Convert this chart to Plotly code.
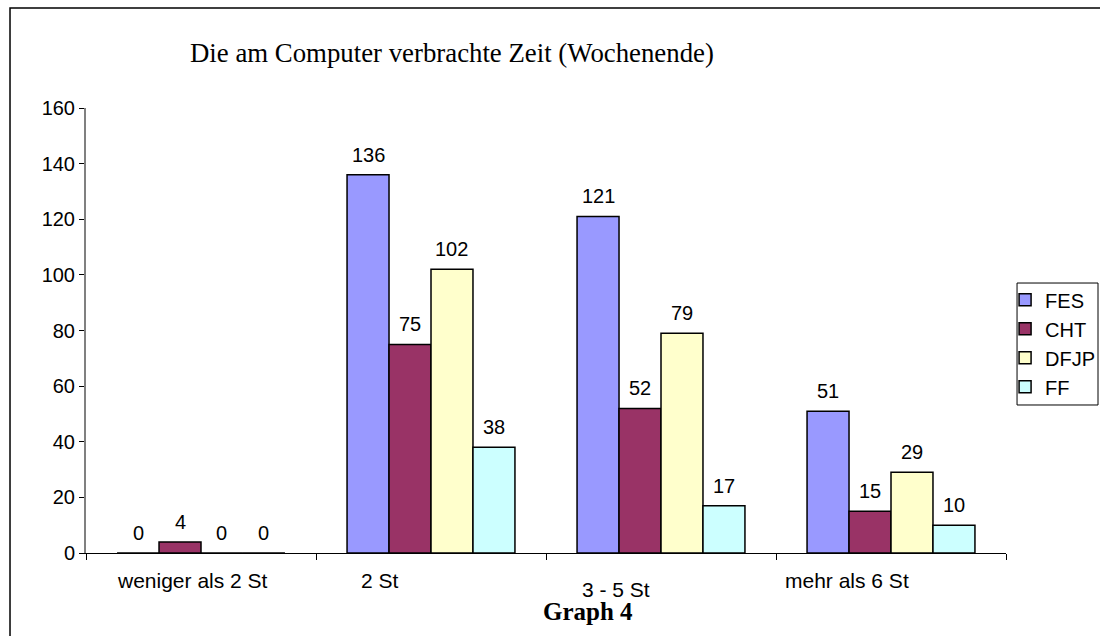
import plotly.graph_objects as go

categories = ["weniger als 2 St", "2 St", "3 - 5 St", "mehr als 6 St"]
series_names = ["FES", "CHT", "DFJP", "FF"]
fes = [0, 136, 121, 51]
cht = [4, 75, 52, 15]
dfjp = [0, 102, 79, 29]
ff = [0, 38, 17, 10]
y_ticks = [0, 20, 40, 60, 80, 100, 120, 140, 160]

colors = ["#9999FF", "#993366", "#FFFFCC", "#CCFFFF"]
values = [fes, cht, dfjp, ff]

SANS = "Liberation Sans, Arial"
SERIF = "Liberation Serif, Times New Roman"
BARGAP = 0.27
n_series = len(values)
bar_w = (1 - BARGAP) / n_series

fig = go.Figure()
annotations = []
for k, (name, vals, col) in enumerate(zip(series_names, values, colors)):
    fig.add_trace(go.Bar(
        name=name, x=list(range(len(categories))), y=vals,
        marker=dict(color=col, line=dict(color="black", width=1.5)),
        hoverinfo="skip",
    ))
    off = -(1 - BARGAP) / 2 + bar_w * (k + 0.5)
    for i, v in enumerate(vals):
        annotations.append(dict(
            x=i + off, y=v, xref="x", yref="y", text=str(v), showarrow=False,
            xanchor="center", yanchor="middle", yshift=20,
            font=dict(family=SANS, size=20, color="black")))

# x labels placed as in the reference (slightly offset from category centres)
label_offsets = [-0.039, -0.222, -0.196, -0.191]
label_y = [-0.0607, -0.0607, -0.083, -0.0607]
for i, (cat, off, yy) in enumerate(zip(categories, label_offsets, label_y)):
    annotations.append(dict(
        x=i + off, y=yy, xref="x", yref="paper", text=cat, showarrow=False,
        font=dict(family=SANS, size=21, color="black"),
        xanchor="center", yanchor="middle"))

annotations.append(dict(
    x=0.398, y=1.1236, xref="paper", yref="paper",
    text="Die am Computer verbrachte Zeit (Wochenende)", showarrow=False,
    font=dict(family=SERIF, size=26.8, color="black"),
    xanchor="center", yanchor="middle"))
annotations.append(dict(
    x=0.5457, y=-0.132, xref="paper", yref="paper",
    text="<b>Graph 4</b>", showarrow=False,
    font=dict(family=SERIF, size=25, color="black"),
    xanchor="center", yanchor="middle"))

fig.update_layout(
    width=1100, height=636,
    margin=dict(l=86, r=94, t=108, b=83, autoexpand=False),
    paper_bgcolor="white", plot_bgcolor="white",
    barmode="group", bargap=BARGAP, bargroupgap=0,
    showlegend=True,
    legend=dict(
        x=0.999, y=0.613, xanchor="left", yanchor="top",
        borderwidth=0, bgcolor="rgba(0,0,0,0)",
        font=dict(family=SANS, size=20, color="black"),
        tracegroupgap=0, itemwidth=30,
    ),
    annotations=annotations,
    shapes=[
        dict(type="rect", xref="paper", yref="paper",
             x0=-0.0826, y0=-0.3, x1=1.2, y1=1.2247,
             line=dict(color="black", width=1.5), fillcolor="rgba(0,0,0,0)"),
        dict(type="rect", xref="paper", yref="paper",
             x0=1.012, y0=0.3326, x1=1.1, y1=0.6067,
             line=dict(color="black", width=1), fillcolor="rgba(0,0,0,0)"),
    ],
    font=dict(family=SANS, size=20, color="black"),
)
fig.update_xaxes(
    type="linear", range=[-0.5, 3.5], tickvals=[-0.5, 0.5, 1.5, 2.5, 3.5],
    showticklabels=False, ticks="outside", ticklen=6, tickcolor="black",
    showline=True, linecolor="black", linewidth=1, showgrid=False, zeroline=False,
)
fig.update_yaxes(
    range=[0, 160], tickvals=y_ticks, ticks="outside", ticklen=5,
    tickcolor="black", showline=True, linecolor="#808080", linewidth=2,
    showgrid=False, zeroline=False,
    tickfont=dict(family=SANS, size=20, color="black"),
)
fig.write_html("out.html", config={"displayModeBar": False},
               post_script="document.body.style.margin='0px';")
